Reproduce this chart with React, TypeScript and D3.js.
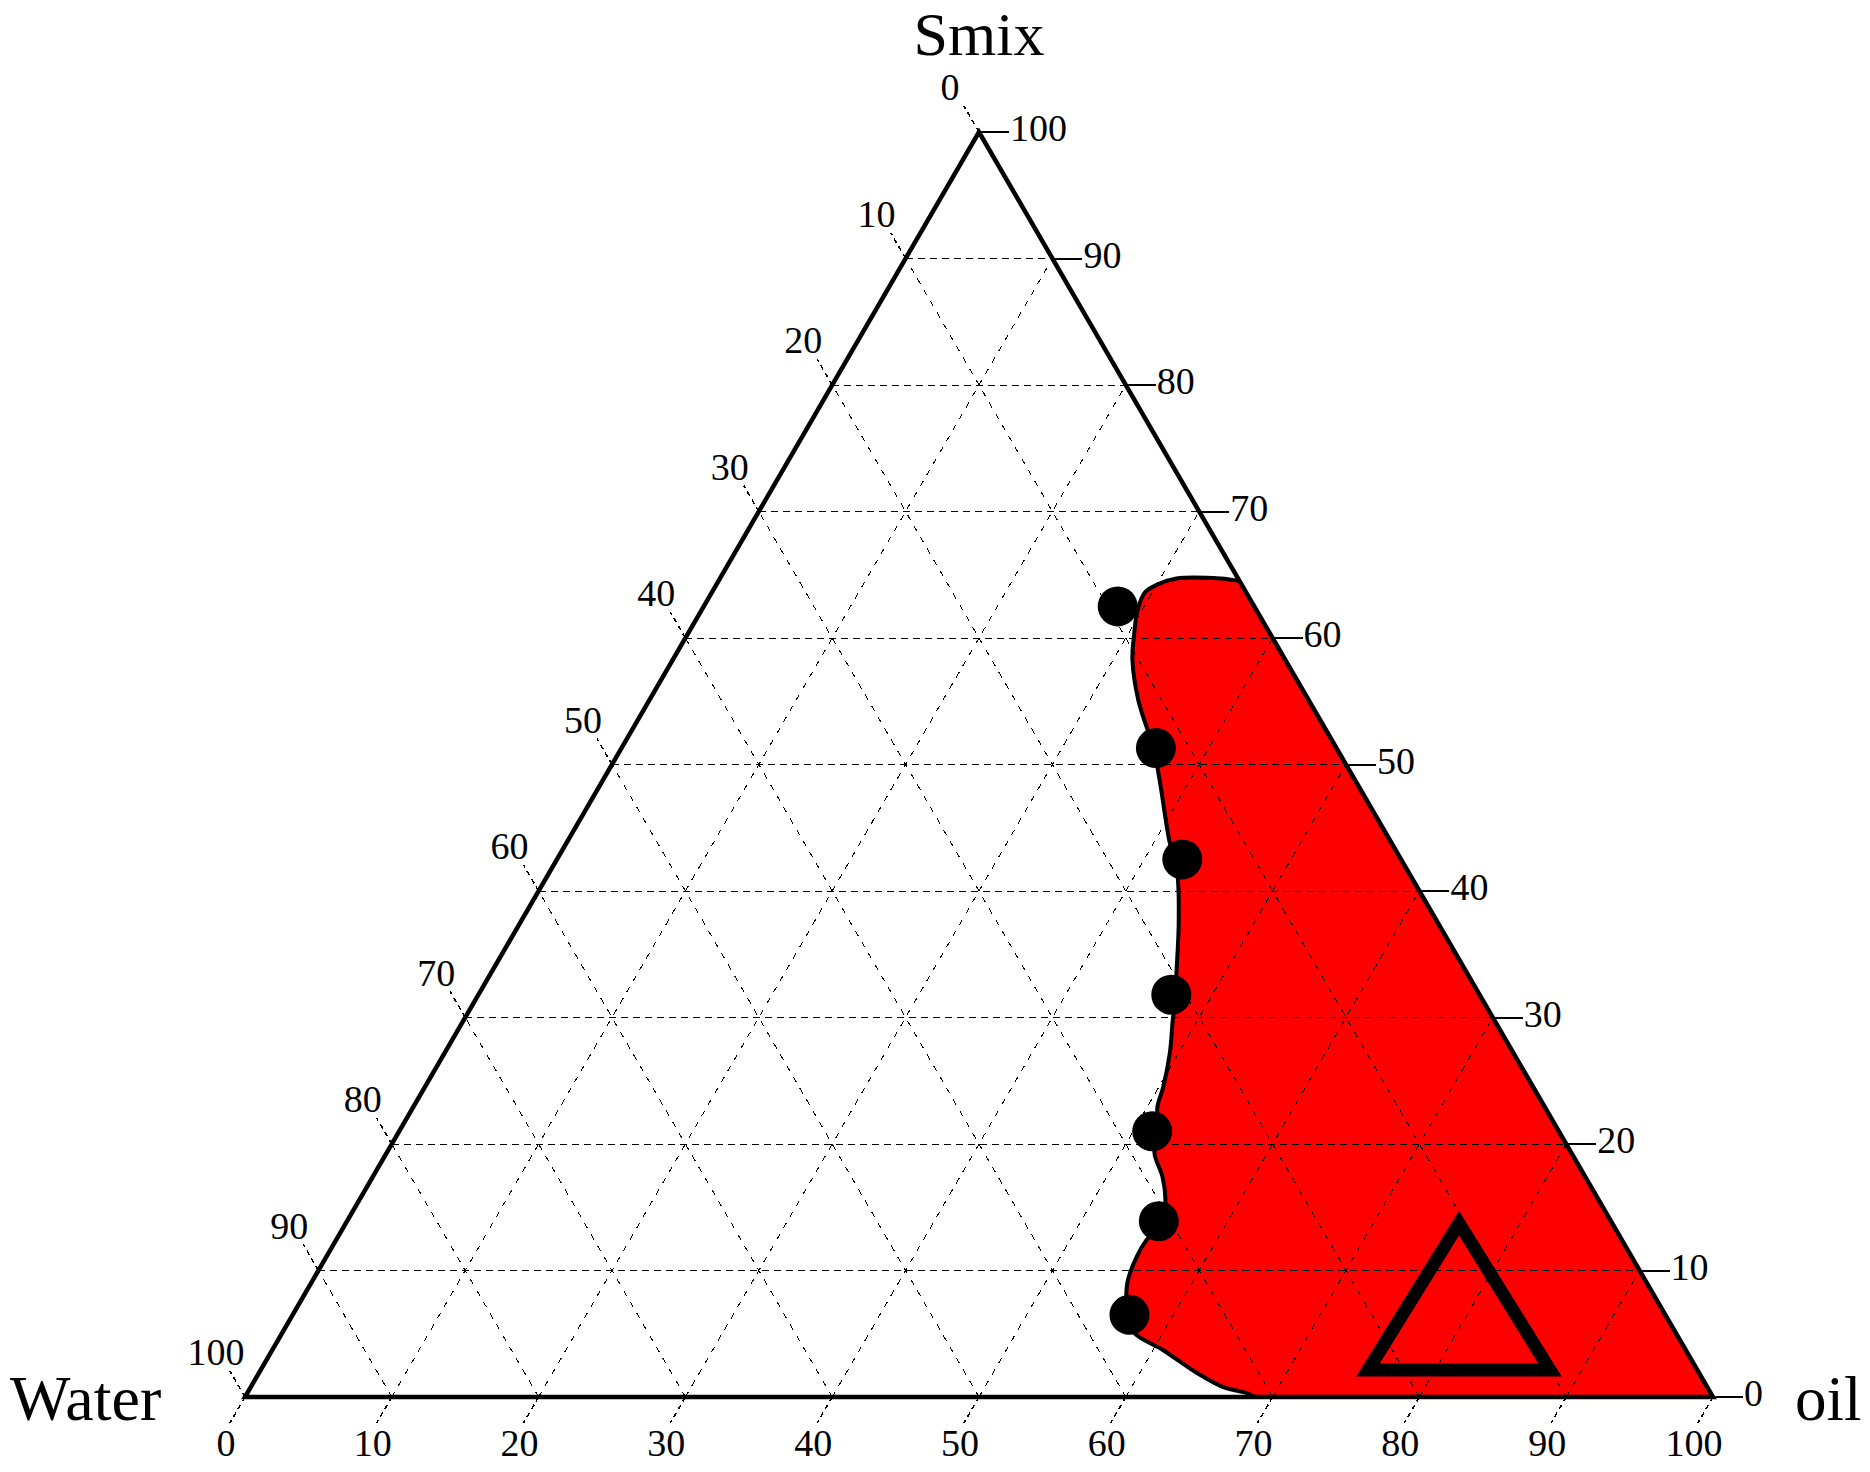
import * as d3 from "d3";
import { useEffect, useRef } from "react";

// --- Data (percent) ---
const tickValues = [0, 10, 20, 30, 40, 50, 60, 70, 80, 90, 100];
const gridLevels = [10, 20, 30, 40, 50, 60, 70, 80, 90];

// black points on the phase boundary (oil %, Smix %)
const dotOil = [28.2, 36.4, 42.6, 47.2, 51.3, 55.3, 57.0];
const dotSmix = [62.5, 51.3, 42.5, 31.8, 21.0, 13.9, 6.5];

// outline of the red (microemulsion) region, from the Smix-oil edge down to the oil axis
const boundaryOil = [35.5, 34.1, 31.1, 30.0, 29.5, 29.7, 30.5, 31.3, 33.3, 36.3, 37.9, 41.1, 42.1, 43.1, 45.0, 46.7, 47.5, 48.3, 49.4, 50.3, 50.7, 51.7, 52.3, 53.8, 54.9, 55.6, 55.2, 55.2, 55.6, 56.9, 58.0, 60.7, 63.9, 66.2, 68.1, 68.8];
const boundarySmix = [64.5, 64.7, 64.7, 64.2, 63.6, 62.2, 60.1, 58.3, 55.1, 51.2, 48.8, 43.8, 42.5, 40.9, 37.2, 33.5, 31.8, 29.8, 27.2, 24.5, 22.9, 21.0, 19.3, 17.4, 15.6, 13.9, 12.4, 11.1, 9.0, 6.5, 5.1, 3.7, 1.9, 0.8, 0.3, 0];

// open triangle marker inside the region
const markerOil = [79.7];
const markerSmix = [6.0];

export default function App() {
  const ref = useRef<SVGSVGElement>(null);

  useEffect(() => {
    const width = 1870;
    const height = 1472;
    const x0 = 245;
    const y0 = 1397;
    const side = 1468;
    const tall = 1265;
    const font = "'Liberation Serif', 'Times New Roman', serif";

    const xs = d3.scaleLinear().domain([0, 100]).range([0, side]);
    const ys = d3.scaleLinear().domain([0, 100]).range([y0, y0 - tall]);
    // ternary -> screen (oil along bottom, Smix up)
    const px = (oil: number, smix: number) => x0 + xs(oil) + xs(smix) / 2;
    const py = (smix: number) => ys(smix);

    const svg = d3.select(ref.current)
      .attr("width", width)
      .attr("height", height)
      .attr("viewBox", `0 0 ${width} ${height}`)
      .style("font-family", font);

    svg.selectAll("*").remove();
    svg.append("rect").attr("width", width).attr("height", height).attr("fill", "#fff");

    // --- red region ---
    const pts: [number, number][] = boundaryOil.map((o, i) => [px(o, boundarySmix[i]), py(boundarySmix[i])]);
    const curve = d3.line().curve(d3.curveCatmullRom.alpha(0.5))(pts) as string;
    const regionPath = `${curve}L${px(100, 0)},${py(0)}L${pts[0][0]},${pts[0][1]}Z`;
    svg.append("path").attr("d", regionPath).attr("fill", "#ff0000");

    // --- dashed grid ---
    const grid = svg.append("g")
      .attr("stroke", "#000").attr("stroke-width", 1).attr("fill", "none")
      .attr("shape-rendering", "crispEdges");
    gridLevels.forEach(k => {
      // constant Smix (horizontal)
      grid.append("line")
        .attr("x1", px(0, k)).attr("y1", py(k))
        .attr("x2", px(100 - k, k)).attr("y2", py(k))
        .attr("stroke-dasharray", "7,5");
      // constant oil
      grid.append("line")
        .attr("x1", px(k, 0)).attr("y1", py(0))
        .attr("x2", px(k, 100 - k)).attr("y2", py(100 - k))
        .attr("stroke-dasharray", "6,7");
      // constant water
      grid.append("line")
        .attr("x1", px(100 - k, 0)).attr("y1", py(0))
        .attr("x2", px(0, 100 - k)).attr("y2", py(100 - k))
        .attr("stroke-dasharray", "6,7");
    });

    // region outline (curved part; the straight edges come from the frame)
    svg.append("path").attr("d", curve)
      .attr("fill", "none").attr("stroke", "#000").attr("stroke-width", 4);

    // --- triangle frame ---
    svg.append("path")
      .attr("d", `M${px(0, 0)},${py(0)}L${px(100, 0)},${py(0)}L${px(0, 100)},${py(100)}Z`)
      .attr("fill", "none").attr("stroke", "#000").attr("stroke-width", 4.5)
      .attr("stroke-linejoin", "miter");

    // --- ticks & labels ---
    const len = 30;
    const ux = -0.502, uy = 0.865;
    const axes = svg.append("g").attr("fill", "#000").attr("font-size", 38);
    tickValues.forEach(v => {
      // bottom: oil
      const bx = px(v, 0), by = py(0);
      axes.append("line")
        .attr("x1", bx).attr("y1", by).attr("x2", bx + ux * len).attr("y2", by + uy * len)
        .attr("stroke", "#000").attr("stroke-width", 1.5).attr("stroke-dasharray", "5,4")
        .attr("shape-rendering", "crispEdges");
      axes.append("text")
        .attr("x", bx + ux * len - 4).attr("y", 1456)
        .attr("text-anchor", "middle").text(v);

      // left: water (0 at apex)
      const lx = px(0, 100 - v), ly = py(100 - v);
      axes.append("line")
        .attr("x1", lx).attr("y1", ly).attr("x2", lx + ux * len).attr("y2", ly - uy * len)
        .attr("stroke", "#000").attr("stroke-width", 1.5).attr("stroke-dasharray", "5,4")
        .attr("shape-rendering", "crispEdges");
      axes.append("text")
        .attr("x", lx + ux * len - 14).attr("y", ly - uy * len - 6)
        .attr("text-anchor", "middle").text(v);

      // right: Smix
      const rx = px(100 - v, v), ry = py(v);
      axes.append("line")
        .attr("x1", rx).attr("y1", ry).attr("x2", rx + len).attr("y2", ry)
        .attr("stroke", "#000").attr("stroke-width", 2)
        .attr("shape-rendering", "crispEdges");
      axes.append("text")
        .attr("x", rx + len + 1).attr("y", ry + 9)
        .attr("text-anchor", "start").text(v);
    });

    // --- corner titles ---
    svg.append("text").attr("x", px(0, 100)).attr("y", 55)
      .attr("text-anchor", "middle").attr("font-size", 62).text("Smix");
    svg.append("text").attr("x", 10).attr("y", 1420)
      .attr("text-anchor", "start").attr("font-size", 64).text("Water");
    svg.append("text").attr("x", 1795).attr("y", 1420)
      .attr("text-anchor", "start").attr("font-size", 63).text("oil");

    // --- triangle marker ---
    markerOil.forEach((o, i) => {
      const cx = px(o, markerSmix[i]), cy = py(markerSmix[i]);
      svg.append("path")
        .attr("d", `M${cx},${cy - 98}L${cx + 91},${cy + 49}L${cx - 91},${cy + 49}Z`)
        .attr("fill", "none").attr("stroke", "#000").attr("stroke-width", 13)
        .attr("stroke-linejoin", "miter");
    });

    // --- dots ---
    svg.append("g").selectAll("circle")
      .data(dotOil.map((o, i) => [o, dotSmix[i]]))
      .join("circle")
      .attr("cx", d => px(d[0], d[1]))
      .attr("cy", d => py(d[1]))
      .attr("r", 20)
      .attr("fill", "#000");
  }, []);

  return (
    <svg ref={ref} style={{ position: "absolute", left: 0, top: 0, display: "block" }}></svg>
  );
}
